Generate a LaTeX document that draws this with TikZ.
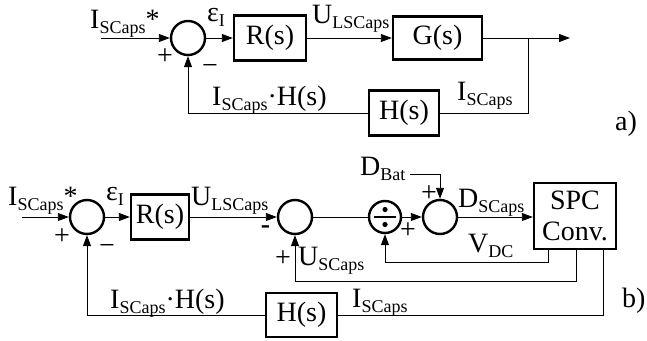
\documentclass[tikz,border=0pt]{standalone}
\usepackage{fontspec}
\setmainfont{Liberation Serif}
\usetikzlibrary{arrows.meta}
\newcommand{\sbs}[1]{\raisebox{-0.2em}{\fontsize{18}{18}\selectfont #1}}
\begin{document}
\begin{tikzpicture}[x=1pt,y=-1pt,
  font=\fontsize{28}{33}\selectfont,
  thinln/.style={line width=0.9pt},
  blk/.style={draw, line width=2.4pt, inner sep=0pt},
  sumc/.style={draw, circle, line width=2.4pt, minimum size=34pt, inner sep=0pt},
  arr/.style={-{Triangle[length=11pt,width=8pt]}, line width=0.9pt},
  lbl/.style={inner sep=0pt, anchor=base west},
  sgn/.style={inner sep=0pt}]
\useasboundingbox (0,0) rectangle (647,340);

% ---------- a) ----------
\coordinate (ina) at (101,38);
\node[sumc] (sa) at (188,38) {};
\node[blk, minimum width=72pt, minimum height=45pt] (ra) at (270,38) {R(s)};
\node[blk, minimum width=89pt, minimum height=43pt] (ga) at (437.5,38) {G(s)};
\coordinate (bra) at (528,38);
\coordinate (outa) at (570,38);
\node[blk, minimum width=70pt, minimum height=45pt] (ha) at (404,113) {H(s)};

\draw[arr] (ina) -- (sa);
\draw[arr] (sa) -- (ra);
\draw[arr] (ra) -- (ga);
\draw[arr] (ga) -- (outa);
\draw[thinln] (bra) |- (ha);
\draw[arr] (ha) -| (sa);

\node[lbl] (lia) at (90,28) {I\sbs{SCaps}*};
\node[lbl] (epa) at (207,21) {ε\sbs{I}};
\node[sgn] (pa) at (165,57) {+};
\node[sgn] (ma) at (210,70) {−};
\node[lbl] (ua) at (312,23) {U\sbs{LSCaps}};
\node[lbl] (iha) at (212,105) {I\sbs{SCaps}·H(s)};
\node[lbl] (ia) at (457,100) {I\sbs{SCaps}};
\node[lbl] (aa) at (615,130) {a)};

% ---------- b) ----------
\coordinate (inb) at (22,217);
\node[sumc] (sb1) at (87,217) {};
\node[blk, minimum width=58pt, minimum height=45pt] (rb) at (160,217) {R(s)};
\node[sumc] (sb2) at (295,217) {};
\node[sumc, minimum size=32pt] (dv) at (385,217) {};
\node[sumc] (sb3) at (440,217) {};
\node[blk, minimum width=82pt, minimum height=66pt, align=center] (spc) at (575,216) {SPC\\[-2pt]Conv.};
\node[blk, minimum width=71pt, minimum height=44pt] (hb) at (301.5,315) {H(s)};
\coordinate (dbat) at (410,174);

\draw[line width=2.4pt] ([xshift=-11pt]dv.center) -- ([xshift=11pt]dv.center);
\fill ([yshift=7.5pt]dv.center) circle (2.6pt);
\fill ([yshift=-7.5pt]dv.center) circle (2.6pt);

\draw[arr] (inb) -- (sb1);
\draw[arr] (sb1) -- (rb);
\draw[arr] (rb) -- (sb2);
\draw[thinln] (sb2) -- (dv);
\draw[arr] (dv) -- (sb3);
\draw[arr] (sb3) -- (sb3 -| spc.west);
\draw[arr] (dbat) -| (sb3);
\draw[arr] ([xshift=-27pt]spc.south) -- ++(0,12) -| (dv);
\draw[arr] ([xshift=1pt]spc.south) -- ++(0,31) -| (sb2);
\draw[thinln] ([xshift=28pt]spc.south) |- (hb);
\draw[arr] (hb) -| (sb1);

\node[lbl] (lib) at (8,205) {I\sbs{SCaps}*};
\node[lbl] (epb) at (106,200) {ε\sbs{I}};
\node[sgn] (pb1) at (62,237) {+};
\node[sgn] (mb1) at (107,249) {−};
\node[lbl] (ub) at (191,205) {U\sbs{LSCaps}};
\node[sgn] (mb2) at (265.5,230) {\bfseries -};
\node[sgn] (pb2) at (283,259) {+};
\node[lbl] (usb) at (298,265) {U\sbs{SCaps}};
\node[sgn] (pb3) at (408,231) {+};
\node[sgn] (pb4) at (429,194) {+};
\node[lbl] (db) at (360,175) {D\sbs{Bat}};
\node[lbl] (dsb) at (458,207) {D\sbs{SCaps}};
\node[lbl] (vdc) at (468,252) {V\sbs{DC}};
\node[lbl] (ihb) at (110,308) {I\sbs{SCaps}·H(s)};
\node[lbl] (isb) at (352,307) {I\sbs{SCaps}};
\node[lbl] (bb) at (622,307) {b)};
\end{tikzpicture}
\end{document}
